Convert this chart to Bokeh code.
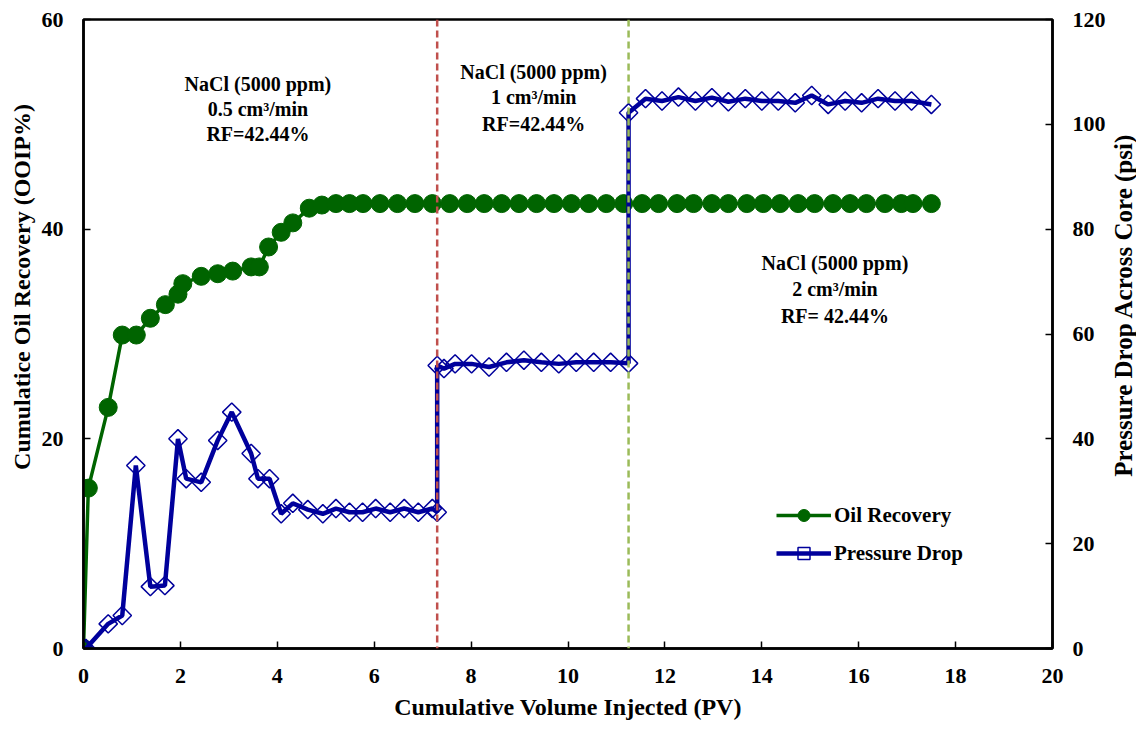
import math
from bokeh.plotting import figure
from bokeh.layouts import row
from bokeh.models import Range1d, LinearAxis, Label, Legend, LegendItem, Span, FixedTicker
from bokeh.embed import file_html
from bokeh.resources import INLINE

# ---------------- data ----------------
oil_pv = [0, 0.10, 0.51, 0.80, 1.09, 1.38, 1.69, 1.95, 2.05, 2.43, 2.77, 3.08, 3.46, 3.63,
          3.82, 4.08, 4.32, 4.66, 4.92, 5.21, 5.49, 5.77, 6.12, 6.48, 6.84, 7.20, 7.56, 7.92,
          8.27, 8.63, 8.99, 9.35, 9.71, 10.07, 10.43, 10.79, 11.15, 11.53, 11.87, 12.25,
          12.59, 12.97, 13.31, 13.69, 14.03, 14.38, 14.75, 15.09, 15.47, 15.82, 16.16, 16.54,
          16.88, 17.12, 17.50]
oil_recovery = [0, 15.3, 23.0, 29.9, 29.9, 31.5, 32.8, 33.8, 34.8, 35.5, 35.75, 36.0, 36.4, 36.4,
                38.3, 39.7, 40.6, 42.0, 42.3, 42.44, 42.44, 42.44, 42.44, 42.44, 42.44, 42.44,
                42.44, 42.44, 42.44, 42.44, 42.44, 42.44, 42.44, 42.44, 42.44, 42.44, 42.44,
                42.44, 42.44, 42.44, 42.44, 42.44, 42.44, 42.44, 42.44, 42.44, 42.44, 42.44,
                42.44, 42.44, 42.44, 42.44, 42.44, 42.44, 42.44]

dp_pv = [0, 0.05, 0.51, 0.80, 1.08, 1.38, 1.68, 1.95, 2.12, 2.43, 2.77, 3.06, 3.46, 3.60,
         3.84, 4.08, 4.32, 4.63, 4.94, 5.21, 5.49, 5.76, 6.03, 6.33, 6.62, 6.91, 7.20, 7.30,
         7.30, 7.44, 7.67, 8.01, 8.37, 8.73, 9.09, 9.45, 9.81, 10.17, 10.53, 10.88, 11.25,
         11.25, 11.60, 11.94, 12.28, 12.63, 12.97, 13.31, 13.66, 14.00, 14.34, 14.69, 15.03,
         15.37, 15.72, 16.06, 16.40, 16.75, 17.09, 17.50]
pressure_drop = [0, 0, 4.7, 6.3, 34.9, 11.8, 12.0, 40.0, 32.4, 31.7, 39.7, 45.1, 37.2, 32.4,
                 32.4, 25.7, 27.7, 26.5, 25.7, 26.7, 26.0, 26.0, 26.7, 26.0, 26.7, 26.0, 26.7, 26.0,
                 54.0, 53.4, 54.3, 54.3, 53.7, 54.6, 55.0, 54.6, 54.3, 54.6, 54.6, 54.6, 54.4,
                 102.2, 104.9, 104.45, 105.2, 104.45, 105.1, 104.3, 104.9, 104.45, 104.45, 104.1,
                 105.5, 103.8, 104.45, 104.1, 104.9, 104.45, 104.45, 103.8]

rate_change_pv = [7.3, 11.25]

x_ticks = [0, 2, 4, 6, 8, 10, 12, 14, 16, 18, 20]
left_ticks = [0, 20, 40, 60]
right_ticks = [0, 20, 40, 60, 80, 100, 120]

x_title = "Cumulative Volume Injected (PV)"
left_title = "Cumulatice Oil Recovery (OOIP%)"
right_title = "Pressure Drop Across Core (psi)"

stage1_text = ["NaCl (5000 ppm)", "0.5 cm³/min", "RF=42.44%"]
stage2_text = ["NaCl (5000 ppm)", "1 cm³/min", "RF=42.44%"]
stage3_text = ["NaCl (5000 ppm)", "2 cm³/min", "RF= 42.44%"]

# ---------------- figure ----------------
FONT = "Liberation Serif"
GREEN = "#006400"
BLUE = "#00009C"
H = 729
LEFT_W = 38
RIGHT_W = 28
MAIN_W = 1136 - LEFT_W - RIGHT_W

p = figure(width=MAIN_W, height=H, output_backend="svg", toolbar_location=None,
           x_range=Range1d(0, 20), y_range=Range1d(0, 60),
           min_border_left=82 - LEFT_W, min_border_right=1136 - RIGHT_W - 1053,
           min_border_top=19, min_border_bottom=81)
p.extra_y_ranges = {"dp": Range1d(0, 120)}
p.xgrid.visible = False
p.ygrid.visible = False
p.outline_line_color = "black"
p.outline_line_width = 2.5
p.background_fill_color = "white"
p.border_fill_color = "white"

def style_axis(ax, ticks):
    ax.ticker = FixedTicker(ticks=ticks)
    ax.axis_label_text_font = FONT
    ax.axis_label_text_font_style = "bold"
    ax.axis_label_text_font_size = "24px"
    ax.axis_label_text_color = "black"
    ax.major_label_text_font = FONT
    ax.major_label_text_font_style = "bold"
    ax.major_label_text_font_size = "22px"
    ax.major_label_text_color = "black"
    ax.axis_line_color = "black"
    ax.axis_line_width = 2.5
    ax.major_tick_line_color = "black"
    ax.major_tick_line_width = 1.5
    ax.major_tick_in = 7
    ax.major_tick_out = 0
    ax.minor_tick_line_color = None
    ax.major_label_standoff = 20

xax = p.xaxis[0]
style_axis(xax, x_ticks)
xax.axis_label = x_title
xax.axis_label_standoff = 8
yax = p.yaxis[0]
style_axis(yax, left_ticks)

rax = LinearAxis(y_range_name="dp")
style_axis(rax, right_ticks)
p.add_layout(rax, "right")

# oil recovery
oil_line = p.line(oil_pv, oil_recovery, line_color=GREEN, line_width=3.5)
oil_pts = p.scatter(oil_pv, oil_recovery, marker="circle", size=18, fill_color=GREEN,
                    line_color=GREEN)

# rate-change dashed lines
p.add_layout(Span(location=rate_change_pv[0], dimension="height", line_color="#C0504D",
                  line_width=2.5, line_dash="7 4"))
p.add_layout(Span(location=rate_change_pv[1], dimension="height", line_color="#9BBB59",
                  line_width=2.5, line_dash="7 4"))

# pressure drop
dp_line = p.line(dp_pv, pressure_drop, line_color=BLUE, line_width=4.5, y_range_name="dp")
dp_pts = p.scatter(dp_pv, pressure_drop, marker="square", angle=math.pi / 4, size=13,
                   fill_color=None, line_color=BLUE, line_width=1.5, y_range_name="dp")

# annotations
def add_block(lines, x, ys):
    for t, yy in zip(lines, ys):
        p.add_layout(Label(x=x, y=yy, text=t, text_align="center", text_baseline="middle",
                           text_font=FONT, text_font_style="bold", text_font_size="20px",
                           text_color="black"))

add_block(stage1_text, 3.6, [53.8, 51.5, 49.1])
add_block(stage2_text, 9.29, [55.0, 52.6, 50.0])
add_block(stage3_text, 15.51, [36.8, 34.3, 31.7])

legend = Legend(items=[LegendItem(label="Oil Recovery", renderers=[oil_line, oil_pts]),
                       LegendItem(label="Pressure Drop", renderers=[dp_line, dp_pts])],
                location=(693, 80), orientation="vertical",
                glyph_width=55, glyph_height=30, label_standoff=3, spacing=8, padding=0,
                margin=0, border_line_color=None, background_fill_alpha=0,
                label_text_font=FONT, label_text_font_style="bold",
                label_text_font_size="21px", label_text_color="black")
p.add_layout(legend)

# side strips carrying the vertical axis titles (reading bottom-to-top)
def title_strip(width, text, cx, cy, size):
    f = figure(width=width, height=H, output_backend="svg", toolbar_location=None,
               x_range=Range1d(0, width), y_range=Range1d(0, H),
               x_axis_location=None, y_axis_location=None, min_border=0)
    f.grid.visible = False
    f.outline_line_color = None
    f.background_fill_color = "white"
    f.border_fill_color = "white"
    f.add_layout(Label(x=cx, y=H - cy, text=text, angle=math.pi / 2, text_align="center",
                       text_baseline="middle", text_font=FONT, text_font_style="bold",
                       text_font_size=size, text_color="black"))
    return f

left_strip = title_strip(LEFT_W, left_title, 21, 310, "24px")
right_strip = title_strip(RIGHT_W, right_title, 14.5, 331, "25px")

layout = row(left_strip, p, right_strip, spacing=0)
open("out.html", "w").write(file_html(layout, INLINE))
